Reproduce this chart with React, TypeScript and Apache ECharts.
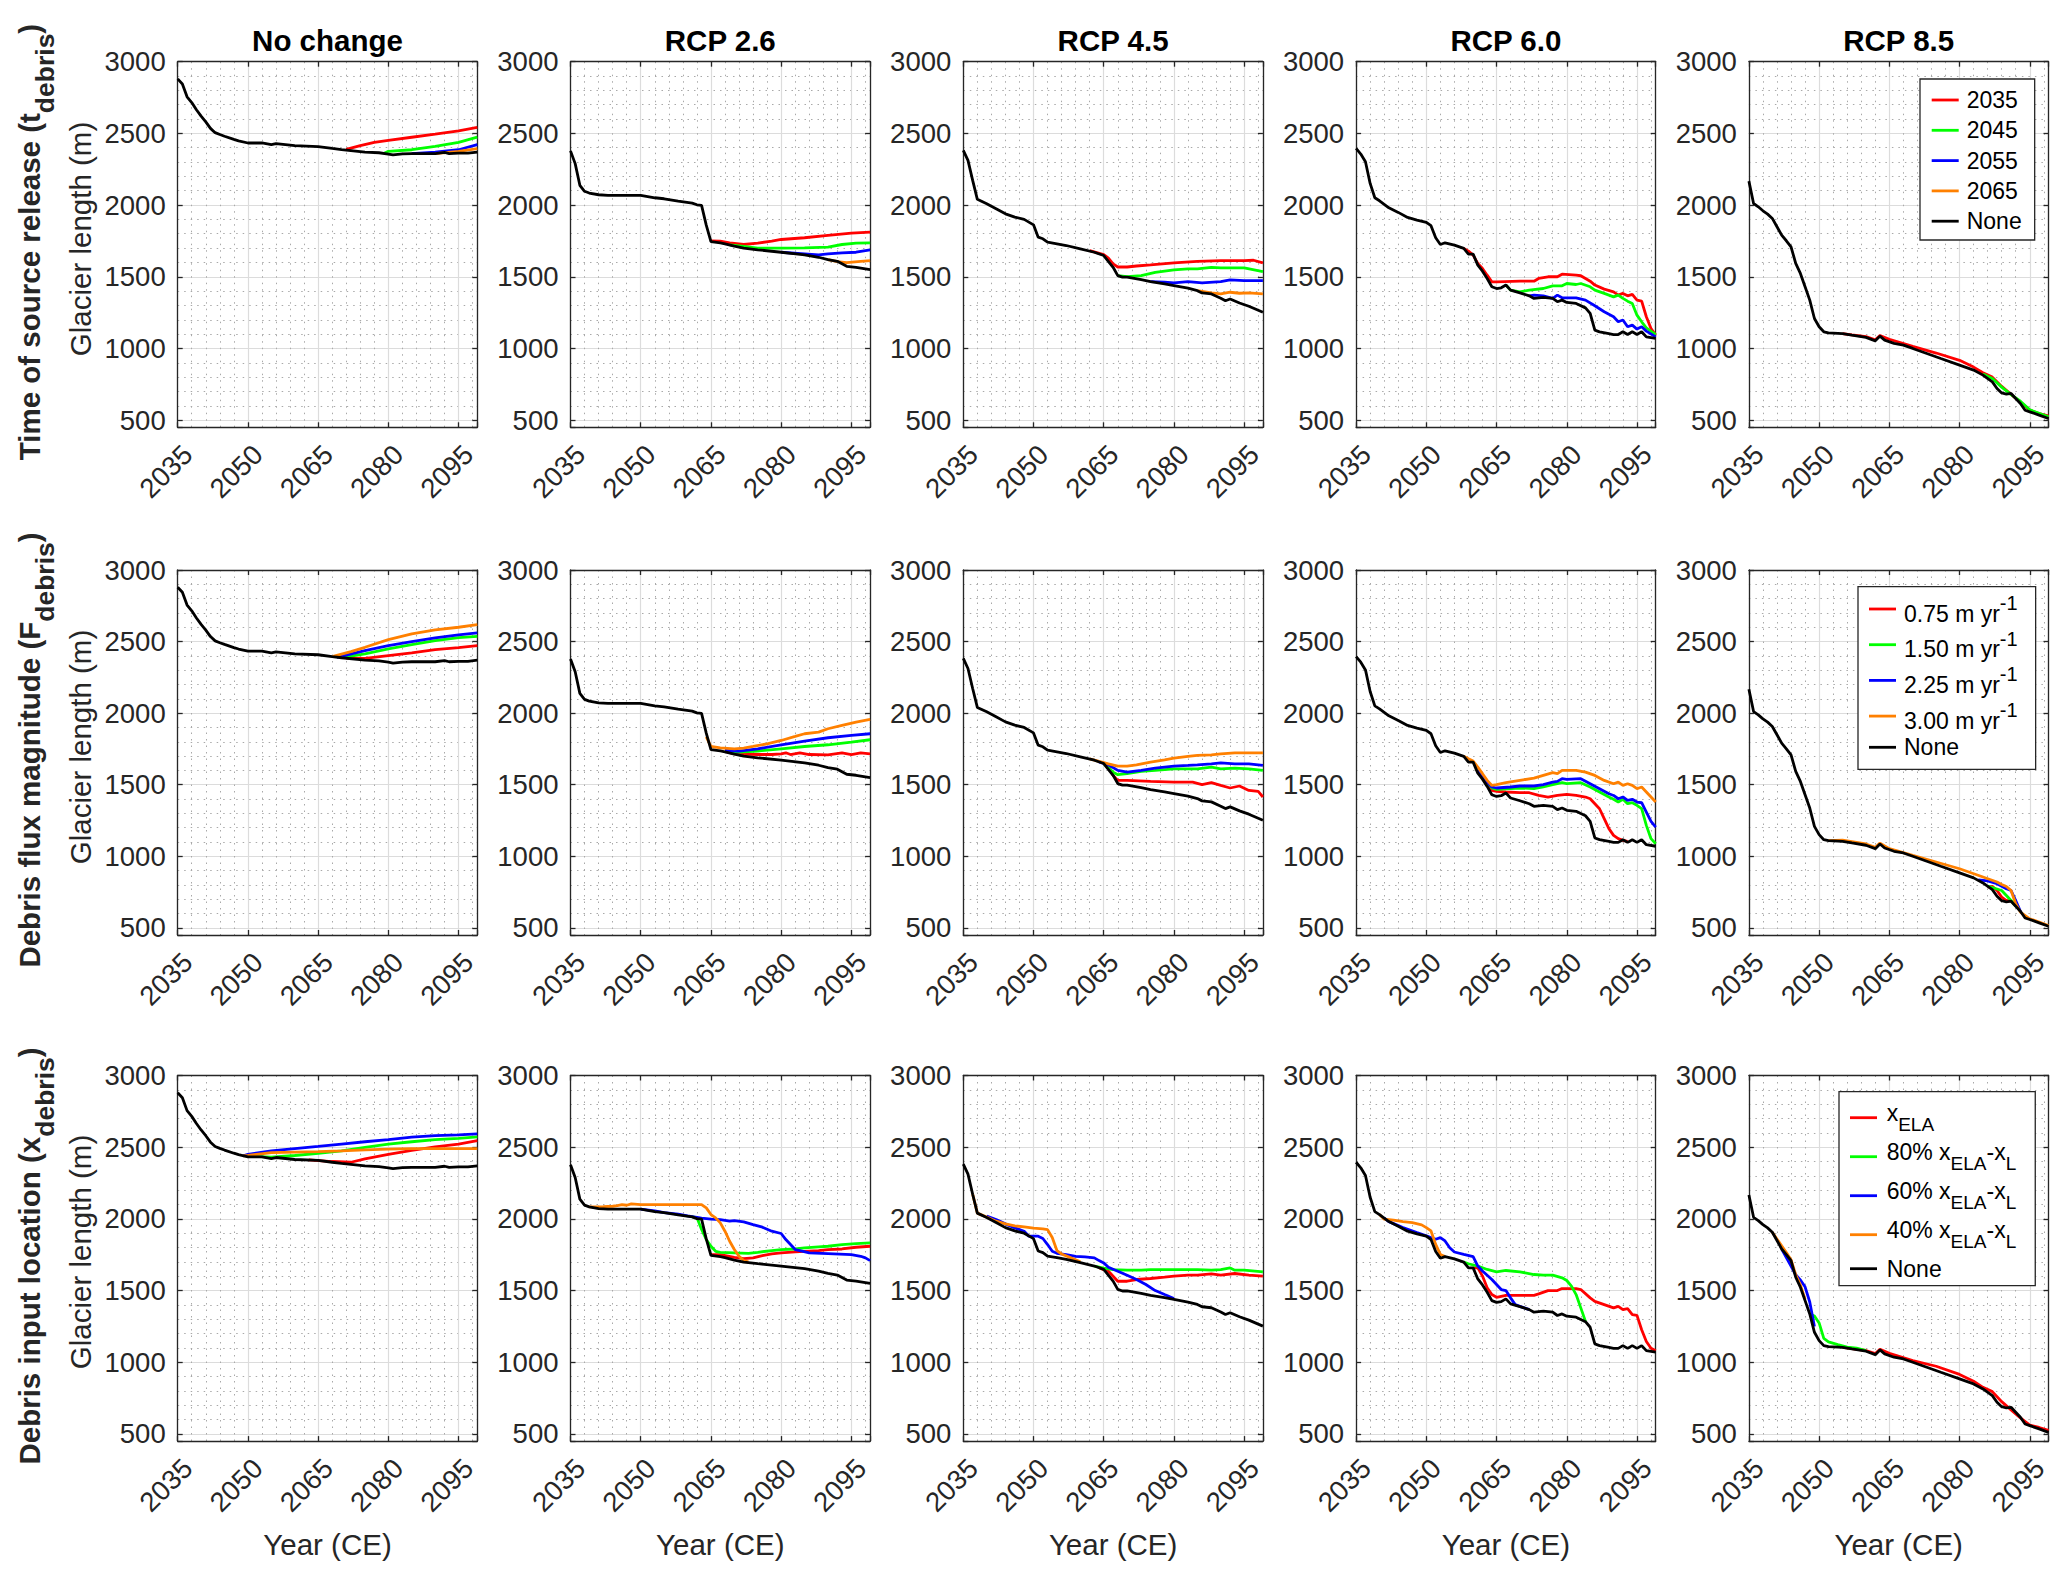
import React, { useEffect, useRef } from 'react';
import * as echarts from 'echarts';

type Pt = [number, number];

// ---------- labels ----------
const SCENARIOS = ['No change', 'RCP 2.6', 'RCP 4.5', 'RCP 6.0', 'RCP 8.5'];
const ROW_TITLES = ['Time of source release', 'Debris flux magnitude', 'Debris input location'];
const ROW_SYMBOLS = ['t', 'F', 'x'];
const RELEASE_YEARS = ['2035', '2045', '2055', '2065', 'None'];
const FLUX_RATES = ['0.75 m yr-1', '1.50 m yr-1', '2.25 m yr-1', '3.00 m yr-1', 'None'];
const LOCATIONS = ['x_ELA', '80% x_ELA-x_L', '60% x_ELA-x_L', '40% x_ELA-x_L', 'None'];
const YEAR_MIN = 2035;
const YEAR_MAX = 2099;
const YEAR_STEP = 15;
const LEN_MIN = 450;
const LEN_MAX = 3000;
const LEN_STEP = 500;

// ---------- "None" (no debris) baselines per scenario ----------
const NONE_NC: Pt[] = [[2035,2880],[2036,2845],[2037,2755],[2038,2715],[2039,2665],[2040,2620],[2041,2580],[2042,2535],[2043,2505],[2044,2492],[2045,2480],[2047,2458],[2048,2448],[2050,2433],[2053,2433],[2055,2421],[2056,2428],[2058,2421],[2060,2414],[2065,2408],[2068,2395],[2070,2387],[2075,2370],[2078,2365],[2080,2356],[2081,2350],[2083,2357],[2085,2359],[2090,2359],[2092,2367],[2093,2359],[2095,2362],[2097,2362],[2099,2370]];
const NONE_26: Pt[] = [[2035,2378],[2036,2289],[2037,2138],[2038,2096],[2039,2084],[2041,2072],[2043,2068],[2050,2068],[2053,2051],[2055,2044],[2058,2028],[2061,2014],[2062,2002],[2063,1998],[2064,1860],[2065,1745],[2067,1737],[2068,1730],[2070,1713],[2072,1699],[2075,1688],[2080,1671],[2085,1653],[2088,1636],[2090,1620],[2092,1608],[2094,1573],[2096,1566],[2099,1550]];
const NONE_45: Pt[] = [[2035,2382],[2036,2312],[2037,2172],[2038,2040],[2040,2009],[2042,1974],[2044,1939],[2046,1916],[2048,1900],[2050,1862],[2051,1776],[2052,1765],[2053,1741],[2055,1730],[2057,1718],[2060,1695],[2063,1671],[2065,1648],[2067,1566],[2068,1508],[2069,1497],[2070,1497],[2073,1480],[2075,1466],[2078,1450],[2080,1438],[2083,1420],[2085,1403],[2086,1387],[2088,1380],[2090,1350],[2091,1333],[2092,1345],[2094,1317],[2096,1294],[2099,1252]];
const NONE_60: Pt[] = [[2035,2395],[2036,2356],[2037,2302],[2038,2151],[2039,2051],[2040,2030],[2042,1981],[2044,1949],[2046,1914],[2048,1895],[2050,1879],[2051,1856],[2052,1772],[2053,1725],[2054,1737],[2056,1721],[2058,1698],[2059,1658],[2060,1658],[2061,1581],[2062,1539],[2063,1488],[2064,1430],[2065,1418],[2066,1423],[2067,1442],[2068,1407],[2070,1388],[2072,1367],[2073,1349],[2075,1356],[2077,1349],[2078,1326],[2079,1337],[2080,1321],[2082,1314],[2084,1283],[2085,1244],[2086,1128],[2087,1116],[2089,1104],[2090,1097],[2091,1097],[2092,1116],[2093,1097],[2094,1116],[2095,1097],[2096,1116],[2097,1081],[2099,1070]];
const NONE_85: Pt[] = [[2035,2167],[2036,2011],[2037,1988],[2038,1960],[2039,1937],[2040,1907],[2041,1849],[2042,1790],[2043,1751],[2044,1709],[2045,1593],[2046,1523],[2047,1430],[2048,1337],[2049,1209],[2050,1151],[2051,1116],[2052,1109],[2055,1104],[2057,1093],[2060,1077],[2062,1053],[2063,1086],[2064,1058],[2066,1035],[2068,1023],[2070,1000],[2073,965],[2076,930],[2080,884],[2083,849],[2085,814],[2087,767],[2088,721],[2089,690],[2090,681],[2091,686],[2092,651],[2093,616],[2094,569],[2095,558],[2097,535],[2099,511]];

// ---------- Row 1: time of source release ----------
const T_NC_R: Pt[] = [[2071,2388],[2074,2415],[2077,2437],[2080,2451],[2085,2473],[2090,2495],[2095,2518],[2099,2542]];
const T_NC_G: Pt[] = [[2079,2360],[2080,2375],[2085,2386],[2090,2410],[2095,2437],[2099,2474]];
const T_NC_B: Pt[] = [[2085,2359],[2090,2370],[2095,2386],[2099,2421]];
const T_NC_O: Pt[] = [[2090,2359],[2095,2375],[2099,2393]];
const T_26_R: Pt[] = [[2065,1750],[2067,1748],[2069,1737],[2072,1725],[2075,1735],[2078,1748],[2080,1760],[2085,1772],[2090,1788],[2095,1804],[2099,1811]];
const T_26_G: Pt[] = [[2069,1722],[2072,1711],[2075,1700],[2080,1700],[2085,1702],[2090,1707],[2093,1725],[2096,1735],[2099,1737]];
const T_26_B: Pt[] = [[2080,1671],[2085,1660],[2088,1653],[2090,1660],[2093,1667],[2096,1671],[2099,1688]];
const T_26_O: Pt[] = [[2090,1620],[2092,1606],[2094,1598],[2097,1608],[2099,1613]];
const T_45_R: Pt[] = [[2062,1682],[2065,1655],[2066,1630],[2067,1590],[2068,1568],[2070,1568],[2072,1575],[2075,1583],[2080,1597],[2085,1608],[2090,1613],[2095,1613],[2097,1615],[2099,1597]];
const T_45_G: Pt[] = [[2068,1508],[2070,1501],[2073,1508],[2076,1531],[2080,1548],[2083,1555],[2085,1555],[2088,1566],[2090,1562],[2095,1562],[2099,1536]];
const T_45_B: Pt[] = [[2075,1466],[2078,1462],[2080,1457],[2083,1466],[2086,1457],[2090,1466],[2092,1478],[2095,1473],[2099,1473]];
const T_45_O: Pt[] = [[2085,1403],[2088,1387],[2090,1380],[2092,1392],[2094,1385],[2096,1387],[2099,1380]];
const T_60_R: Pt[] = [[2058,1698],[2059,1679],[2060,1651],[2061,1593],[2062,1558],[2063,1511],[2064,1465],[2065,1465],[2070,1469],[2073,1469],[2074,1488],[2076,1500],[2078,1500],[2079,1518],[2082,1511],[2083,1507],[2085,1469],[2086,1442],[2088,1414],[2090,1395],[2091,1372],[2092,1384],[2093,1367],[2094,1377],[2095,1337],[2096,1330],[2097,1221],[2098,1139],[2099,1093]];
const T_60_G: Pt[] = [[2067,1442],[2068,1407],[2070,1395],[2072,1407],[2075,1418],[2077,1437],[2079,1437],[2080,1453],[2082,1446],[2083,1453],[2085,1430],[2086,1407],[2088,1384],[2090,1360],[2091,1372],[2092,1349],[2093,1330],[2094,1314],[2095,1232],[2096,1186],[2097,1144],[2099,1097]];
const T_60_B: Pt[] = [[2072,1367],[2073,1372],[2075,1367],[2077,1349],[2078,1372],[2079,1353],[2082,1353],[2084,1337],[2086,1298],[2088,1256],[2090,1221],[2091,1186],[2092,1198],[2093,1151],[2094,1163],[2095,1135],[2096,1151],[2097,1121],[2099,1081]];
const T_85_R: Pt[] = [[2055,1104],[2057,1095],[2060,1082],[2062,1060],[2063,1090],[2065,1064],[2070,1014],[2075,968],[2080,917],[2083,870],[2085,830],[2087,800],[2089,735],[2091,680],[2093,625],[2095,570],[2097,545],[2099,530]];
const T_85_G: Pt[] = [[2085,822],[2087,790],[2089,730],[2091,678],[2093,632],[2095,572],[2097,548],[2099,524]];

// ---------- Row 2: debris flux magnitude ----------
const F_NC_R: Pt[] = [[2071,2384],[2075,2382],[2080,2402],[2085,2421],[2090,2444],[2095,2458],[2099,2472]];
const F_NC_G: Pt[] = [[2070,2387],[2075,2414],[2080,2449],[2085,2479],[2090,2507],[2095,2528],[2099,2537]];
const F_NC_B: Pt[] = [[2069,2390],[2075,2437],[2080,2472],[2085,2500],[2090,2526],[2095,2547],[2099,2560]];
const F_NC_O: Pt[] = [[2068,2395],[2072,2430],[2075,2460],[2080,2514],[2085,2553],[2090,2581],[2095,2600],[2099,2619]];
const F_26_R: Pt[] = [[2068,1732],[2070,1716],[2075,1711],[2078,1711],[2080,1716],[2081,1723],[2082,1711],[2084,1723],[2086,1711],[2090,1709],[2093,1723],[2095,1711],[2097,1723],[2099,1716]];
const F_26_G: Pt[] = [[2068,1735],[2071,1728],[2075,1735],[2080,1751],[2085,1767],[2090,1779],[2095,1798],[2099,1814]];
const F_26_B: Pt[] = [[2068,1739],[2071,1735],[2075,1751],[2080,1779],[2085,1805],[2090,1828],[2095,1844],[2099,1856]];
const F_26_O: Pt[] = [[2064,1834],[2065,1767],[2067,1758],[2070,1751],[2072,1756],[2074,1767],[2077,1786],[2080,1809],[2083,1837],[2085,1856],[2088,1867],[2090,1891],[2093,1914],[2096,1937],[2099,1956]];
const F_45_R: Pt[] = [[2065,1648],[2066,1635],[2067,1565],[2068,1530],[2070,1530],[2075,1523],[2080,1518],[2084,1518],[2086,1500],[2088,1514],[2090,1495],[2092,1477],[2094,1491],[2096,1460],[2098,1453],[2099,1414]];
const F_45_G: Pt[] = [[2065,1648],[2067,1588],[2068,1570],[2070,1577],[2073,1593],[2076,1600],[2080,1611],[2085,1611],[2088,1623],[2090,1611],[2093,1616],[2096,1611],[2099,1600]];
const F_45_B: Pt[] = [[2064,1660],[2066,1639],[2068,1600],[2070,1588],[2073,1600],[2076,1616],[2080,1630],[2083,1635],[2085,1639],[2088,1646],[2090,1653],[2093,1646],[2096,1646],[2099,1635]];
const F_45_O: Pt[] = [[2062,1681],[2064,1663],[2066,1646],[2068,1630],[2070,1630],[2072,1639],[2075,1658],[2078,1674],[2080,1686],[2083,1698],[2085,1705],[2088,1709],[2090,1716],[2093,1723],[2096,1723],[2099,1723]];
const F_60_R: Pt[] = [[2062,1550],[2064,1460],[2065,1453],[2067,1449],[2070,1444],[2072,1444],[2074,1425],[2076,1414],[2078,1425],[2080,1432],[2082,1425],[2084,1414],[2085,1402],[2087,1332],[2088,1263],[2089,1193],[2090,1146],[2091,1123],[2092,1111],[2093,1104]];
const F_60_G: Pt[] = [[2062,1560],[2064,1477],[2065,1467],[2068,1472],[2070,1477],[2073,1472],[2075,1484],[2077,1500],[2079,1514],[2080,1507],[2083,1514],[2085,1484],[2087,1449],[2089,1414],[2090,1398],[2091,1379],[2092,1398],[2093,1367],[2094,1374],[2095,1356],[2096,1333],[2097,1216],[2098,1123],[2099,1088]];
const F_60_B: Pt[] = [[2061,1600],[2062,1565],[2063,1518],[2064,1484],[2065,1477],[2068,1484],[2070,1491],[2073,1491],[2075,1500],[2077,1518],[2078,1523],[2079,1542],[2080,1537],[2083,1542],[2085,1507],[2087,1472],[2089,1437],[2090,1425],[2091,1402],[2092,1414],[2093,1391],[2094,1398],[2095,1379],[2096,1374],[2097,1309],[2098,1244],[2099,1204]];
const F_60_O: Pt[] = [[2058,1698],[2059,1681],[2060,1665],[2061,1623],[2062,1577],[2063,1530],[2064,1495],[2065,1500],[2067,1514],[2070,1530],[2073,1546],[2075,1565],[2077,1584],[2078,1577],[2079,1600],[2082,1600],[2084,1588],[2086,1565],[2088,1530],[2090,1507],[2091,1518],[2092,1495],[2093,1507],[2094,1495],[2095,1472],[2096,1484],[2097,1449],[2099,1379]];
const F_85_R: Pt[] = [[2086,785],[2087,790],[2088,761],[2089,715],[2090,691],[2091,686]];
const F_85_G: Pt[] = [[2086,792],[2087,782],[2089,761],[2090,726],[2091,691],[2092,651]];
const F_85_B: Pt[] = [[2084,835],[2086,828],[2088,808],[2090,773],[2091,761],[2092,691],[2093,616]];
const F_85_O: Pt[] = [[2052,1109],[2055,1112],[2060,1086],[2062,1062],[2063,1092],[2065,1053],[2070,1006],[2075,960],[2080,913],[2085,855],[2088,820],[2089,803],[2090,789],[2091,761],[2092,668],[2093,610],[2095,563],[2097,540],[2099,516]];

// ---------- Row 3: debris input location ----------
const X_NC_R: Pt[] = [[2063,2412],[2068,2400],[2072,2395],[2075,2418],[2080,2450],[2085,2478],[2090,2502],[2095,2522],[2099,2545]];
const X_NC_G: Pt[] = [[2050,2438],[2055,2430],[2060,2442],[2065,2457],[2070,2474],[2075,2498],[2080,2522],[2085,2538],[2090,2553],[2095,2562],[2099,2572]];
const X_NC_B: Pt[] = [[2049,2440],[2050,2450],[2055,2474],[2060,2490],[2065,2505],[2070,2522],[2075,2538],[2080,2553],[2085,2570],[2090,2581],[2095,2586],[2099,2593]];
const X_NC_O: Pt[] = [[2049,2440],[2050,2442],[2055,2462],[2060,2466],[2065,2469],[2070,2474],[2075,2481],[2080,2486],[2085,2490],[2099,2490]];
const X_26_R: Pt[] = [[2065,1750],[2067,1751],[2070,1732],[2072,1723],[2074,1728],[2076,1744],[2078,1756],[2080,1763],[2083,1770],[2085,1774],[2088,1779],[2090,1786],[2093,1790],[2096,1802],[2099,1809]];
const X_26_G: Pt[] = [[2061,2014],[2062,2009],[2063,1926],[2064,1856],[2065,1809],[2066,1774],[2067,1767],[2070,1763],[2073,1760],[2075,1767],[2078,1779],[2080,1786],[2083,1790],[2085,1798],[2088,1805],[2090,1809],[2093,1821],[2096,1828],[2099,1832]];
const X_26_B: Pt[] = [[2050,2068],[2053,2056],[2055,2044],[2058,2033],[2060,2021],[2063,2005],[2065,1998],[2067,1995],[2069,1984],[2070,1988],[2072,1979],[2074,1960],[2076,1942],[2078,1914],[2080,1898],[2081,1856],[2082,1821],[2083,1786],[2084,1779],[2086,1763],[2090,1758],[2095,1751],[2097,1739],[2098,1728],[2099,1709]];
const X_26_O: Pt[] = [[2039,2084],[2042,2085],[2044,2088],[2045,2093],[2046,2100],[2047,2095],[2048,2105],[2050,2100],[2063,2100],[2064,2077],[2065,2030],[2066,2007],[2067,1972],[2068,1914],[2069,1844],[2070,1786],[2071,1739],[2072,1709],[2073,1700]];
const X_45_R: Pt[] = [[2064,1660],[2065,1646],[2066,1635],[2067,1600],[2068,1565],[2070,1565],[2072,1577],[2075,1584],[2078,1593],[2080,1600],[2083,1607],[2085,1607],[2088,1616],[2090,1607],[2093,1619],[2096,1607],[2099,1600]];
const X_45_G: Pt[] = [[2063,1671],[2065,1656],[2067,1646],[2070,1642],[2073,1642],[2075,1646],[2080,1646],[2085,1646],[2088,1642],[2090,1646],[2092,1658],[2093,1642],[2095,1642],[2099,1630]];
const X_45_B: Pt[] = [[2040,2019],[2042,1995],[2044,1965],[2046,1937],[2048,1914],[2049,1879],[2051,1879],[2052,1863],[2053,1821],[2054,1774],[2055,1760],[2057,1751],[2059,1739],[2061,1735],[2062,1732],[2063,1728],[2064,1709],[2065,1693],[2066,1663],[2068,1635],[2070,1607],[2072,1577],[2074,1542],[2076,1500],[2078,1472],[2080,1445]];
const X_45_O: Pt[] = [[2037,2172],[2038,2040],[2040,2012],[2042,1984],[2044,1965],[2046,1951],[2048,1944],[2050,1935],[2052,1930],[2053,1925],[2054,1870],[2055,1779],[2056,1755],[2058,1728],[2060,1700]];
const X_60_R: Pt[] = [[2060,1658],[2061,1659],[2062,1601],[2063,1519],[2064,1472],[2065,1453],[2067,1467],[2070,1467],[2073,1467],[2074,1477],[2076,1500],[2078,1500],[2079,1514],[2082,1514],[2083,1507],[2085,1449],[2086,1425],[2088,1402],[2090,1379],[2091,1390],[2092,1367],[2093,1374],[2094,1332],[2095,1327],[2096,1227],[2097,1145],[2098,1098],[2099,1080]];
const X_60_G: Pt[] = [[2058,1698],[2059,1687],[2061,1671],[2063,1647],[2065,1631],[2067,1640],[2070,1631],[2073,1612],[2075,1608],[2077,1608],[2079,1589],[2080,1570],[2081,1531],[2082,1472],[2083,1379],[2084,1285]];
const X_60_B: Pt[] = [[2041,2005],[2042,1981],[2045,1939],[2048,1904],[2050,1881],[2051,1869],[2052,1858],[2053,1869],[2054,1846],[2055,1799],[2056,1769],[2058,1752],[2060,1736],[2061,1671],[2062,1636],[2064,1577],[2066,1507],[2067,1500],[2068,1449],[2069,1402],[2070,1390],[2072,1367]];
const X_60_O: Pt[] = [[2040,2030],[2041,1998],[2043,1991],[2045,1981],[2047,1974],[2049,1958],[2050,1939],[2051,1916],[2052,1822],[2053,1752],[2054,1737]];
const X_85_R: Pt[] = [[2055,1104],[2057,1095],[2060,1082],[2062,1060],[2063,1090],[2065,1062],[2070,1012],[2075,972],[2080,915],[2083,868],[2085,825],[2087,795],[2089,725],[2091,668],[2093,612],[2095,562],[2097,545],[2099,525]];
const X_85_G: Pt[] = [[2048,1337],[2049,1322],[2050,1274],[2051,1166],[2052,1142],[2054,1123],[2056,1106],[2058,1099],[2060,1082]];
const X_85_B: Pt[] = [[2042,1790],[2043,1730],[2044,1670],[2045,1610],[2046,1574],[2047,1526],[2048,1420],[2049,1250]];
const X_85_O: Pt[] = [[2040,1907],[2042,1812],[2043,1765],[2044,1715],[2045,1610],[2046,1540],[2047,1440]];

// ---------- panel assembly (data references only) ----------
const BASELINES = [NONE_NC, NONE_26, NONE_45, NONE_60, NONE_85];
const PANEL_LINES: (Pt[] | null)[][][] = [
  [[T_NC_R, T_NC_G, T_NC_B, T_NC_O], [T_26_R, T_26_G, T_26_B, T_26_O], [T_45_R, T_45_G, T_45_B, T_45_O], [T_60_R, T_60_G, T_60_B, null], [T_85_R, T_85_G, null, null]],
  [[F_NC_R, F_NC_G, F_NC_B, F_NC_O], [F_26_R, F_26_G, F_26_B, F_26_O], [F_45_R, F_45_G, F_45_B, F_45_O], [F_60_R, F_60_G, F_60_B, F_60_O], [F_85_R, F_85_G, F_85_B, F_85_O]],
  [[X_NC_R, X_NC_G, X_NC_B, X_NC_O], [X_26_R, X_26_G, X_26_B, X_26_O], [X_45_R, X_45_G, X_45_B, X_45_O], [X_60_R, X_60_G, X_60_B, X_60_O], [X_85_R, X_85_G, X_85_B, X_85_O]],
];
const ROW_NAMES = [RELEASE_YEARS, FLUX_RATES, LOCATIONS];

// ---------- layout / style ----------
const FF = '"Liberation Sans", Arial, Helvetica, sans-serif';
const AX = '#262626';
const LINE_COLORS = ['#ff0000', '#00ff00', '#0000ff', '#ff8000', '#000000'];
const COL_LEFT = [177.7, 570.5, 963.3, 1356.1, 1748.9];
const PW = 299.6;
const ROW_TOP = [61.7, 570, 1075.5];
const ROW_H = [365.6, 365, 365.6];
const ROW_LABEL_Y = [242, 750, 1256];
const YNAME_Y = [239, 747, 1252];
const TICK_FONT = 27.5;

const fluxLabel = (name: string) => (name === 'None' ? '{m|None}' : `{m|${name.split(' ')[0]} m yr}{p|-1}`);
const locLabel = (name: string) => {
  if (name === 'None') return '{m|None}';
  if (name === 'x_ELA') return '{m|x}{s|ELA}';
  return `{m|${name.split(' ')[0]} x}{s|ELA}{m|-x}{s|L}`;
};

function buildOption() {
  const grid: any[] = [];
  const xAxis: any[] = [];
  const yAxis: any[] = [];
  const series: any[] = [];
  const axLine = { show: true, onZero: false, lineStyle: { color: AX, width: 1.3 } };
  const axTick = { show: true, inside: true, length: 5, lineStyle: { color: AX, width: 1.3 } };
  const minorLine = { show: true, lineStyle: { color: '#a9a9a9', width: 1, type: [1.5, 5] } };
  const majorLine = { show: true, lineStyle: { color: '#dcdcdc', width: 1.2 } };

  for (let r = 0; r < 3; r++) {
    for (let c = 0; c < 5; c++) {
      const gi = r * 5 + c;
      grid.push({ left: COL_LEFT[c], top: ROW_TOP[r], width: PW, height: ROW_H[r], containLabel: false, outerBoundsMode: 'none' });
      xAxis.push({
        type: 'value', gridIndex: gi, position: 'bottom', min: YEAR_MIN, max: YEAR_MAX, interval: YEAR_STEP,
        axisLine: axLine, axisTick: axTick,
        axisLabel: {
          show: true, rotate: 45, margin: 12.5, verticalAlign: 'top', fontSize: TICK_FONT, fontFamily: FF, color: AX,
          showMinLabel: true, showMaxLabel: true,
          formatter: (v: number) => ((v - YEAR_MIN) % YEAR_STEP === 0 ? String(v) : ''),
        },
        splitLine: majorLine,
        minorTick: { show: false, splitNumber: 5 },
        minorSplitLine: minorLine,
      });
      xAxis.push({
        type: 'value', gridIndex: gi, position: 'top', min: YEAR_MIN, max: YEAR_MAX, interval: YEAR_STEP,
        axisLine: axLine, axisTick: axTick, axisLabel: { show: false }, splitLine: { show: false },
      });
      yAxis.push({
        type: 'value', gridIndex: gi, position: 'left', min: LEN_MIN, max: LEN_MAX, splitNumber: 5,
        axisLine: axLine, axisTick: axTick,
        axisLabel: {
          show: true, margin: 12, fontSize: TICK_FONT, fontFamily: FF, color: AX, showMinLabel: true, showMaxLabel: true,
          formatter: (v: number) => (Math.abs(v % LEN_STEP) < 1e-6 ? String(v) : ''),
        },
        splitLine: majorLine,
        minorTick: { show: false, splitNumber: 5 },
        minorSplitLine: minorLine,
      });
      yAxis.push({
        type: 'value', gridIndex: gi, position: 'right', min: LEN_MIN, max: LEN_MAX, splitNumber: 5,
        axisLine: axLine, axisTick: axTick, axisLabel: { show: false }, splitLine: { show: false },
      });
      const names = ROW_NAMES[r];
      const lines = [...PANEL_LINES[r][c], BASELINES[c]];
      lines.forEach((d, k) => {
        if (!d) return;
        series.push({
          type: 'line', name: names[k], xAxisIndex: 2 * gi, yAxisIndex: 2 * gi, data: d,
          showSymbol: false, symbol: 'none', silent: true, animation: false,
          lineStyle: { color: LINE_COLORS[k], width: 2.8 }, itemStyle: { color: LINE_COLORS[k] },
          emphasis: { disabled: true },
        });
      });
    }
  }

  const legendBase = {
    orient: 'vertical', icon: 'rect', itemWidth: 27, itemHeight: 2.8, selectedMode: false,
    borderColor: AX, borderWidth: 1.3, backgroundColor: '#ffffff', z: 10,
  };
  const legend = [
    {
      ...legendBase, data: RELEASE_YEARS, left: 1920, top: 79, itemGap: 4.3, padding: [8, 13, 5.8, 11.7],
      textStyle: { fontSize: 23, lineHeight: 26, fontFamily: FF, color: '#000', padding: [0, 0, 0, 3] },
    },
    {
      ...legendBase, data: FLUX_RATES, left: 1858, top: 586.7, itemGap: 3.7, padding: [6.3, 18, 10.6, 11],
      formatter: fluxLabel,
      textStyle: {
        fontSize: 23, fontFamily: FF, color: '#000', padding: [0, 0, 0, 3],
        rich: {
          m: { fontSize: 23, fontFamily: FF, color: '#000', verticalAlign: 'bottom' },
          p: { fontSize: 20, fontFamily: FF, color: '#000', verticalAlign: 'top', padding: [0, 0, 12, 0] },
        },
      },
    },
    {
      ...legendBase, data: LOCATIONS, left: 1839, top: 1091.7, itemGap: 6, padding: [9.5, 19, 5.5, 11],
      formatter: locLabel,
      textStyle: {
        fontSize: 23, fontFamily: FF, color: '#000', padding: [0, 0, 0, 4.7],
        rich: {
          m: { fontSize: 23, fontFamily: FF, color: '#000', verticalAlign: 'top' },
          s: { fontSize: 19, fontFamily: FF, color: '#000', verticalAlign: 'top', padding: [14, 0, 0, 0] },
        },
      },
    },
  ];

  const txt = (x: number, y: number, text: string, size: number, weight: string, fill: string, rotation = 0) => ({
    type: 'text', x, y, rotation, silent: true, z: 20,
    style: {
      text, fontSize: size, fontWeight: weight, fontFamily: FF, fill,
      align: 'center', verticalAlign: 'middle', textAlign: 'center', textVerticalAlign: 'middle',
    },
  });
  const graphic: any[] = [];
  SCENARIOS.forEach((t, c) => graphic.push(txt(COL_LEFT[c] + PW / 2, 40, t, 29.5, 'bold', '#000')));
  SCENARIOS.forEach((_, c) => graphic.push(txt(COL_LEFT[c] + PW / 2, 1544, 'Year (CE)', 29.5, 'normal', AX)));
  for (let r = 0; r < 3; r++) {
    graphic.push(txt(80.5, YNAME_Y[r], 'Glacier length (m)', 29.5, 'normal', AX, Math.PI / 2));
    graphic.push({
      type: 'text', x: 36.5, y: ROW_LABEL_Y[r], rotation: Math.PI / 2, silent: true, z: 20,
      style: {
        text: `{b|${ROW_TITLES[r]} (${ROW_SYMBOLS[r]}}{bs|debris}{b|)}`,
        align: 'center', verticalAlign: 'middle', textAlign: 'center', textVerticalAlign: 'middle',
        fill: AX, fontFamily: FF,
        rich: {
          b: { fontSize: 29.5, fontWeight: 'bold', fontFamily: FF, fill: AX, color: AX, verticalAlign: 'top' },
          bs: { fontSize: 26.5, fontWeight: 'bold', fontFamily: FF, fill: AX, color: AX, verticalAlign: 'top', padding: [17, 0, 0, 0] },
        },
      },
    });
  }

  return {
    animation: false,
    backgroundColor: '#ffffff',
    grid, xAxis, yAxis, series, legend, graphic,
  };
}

export default function App() {
  const ref = useRef<HTMLDivElement | null>(null);
  useEffect(() => {
    if (!ref.current) return;
    const chart = echarts.init(ref.current, undefined, { renderer: 'svg' });
    chart.setOption(buildOption() as any);
    return () => chart.dispose();
  }, []);
  return (
    <div
      ref={ref}
      style={{ position: 'fixed', left: 0, top: 0, width: 2067, height: 1578, background: '#ffffff' }}
    />
  );
}
